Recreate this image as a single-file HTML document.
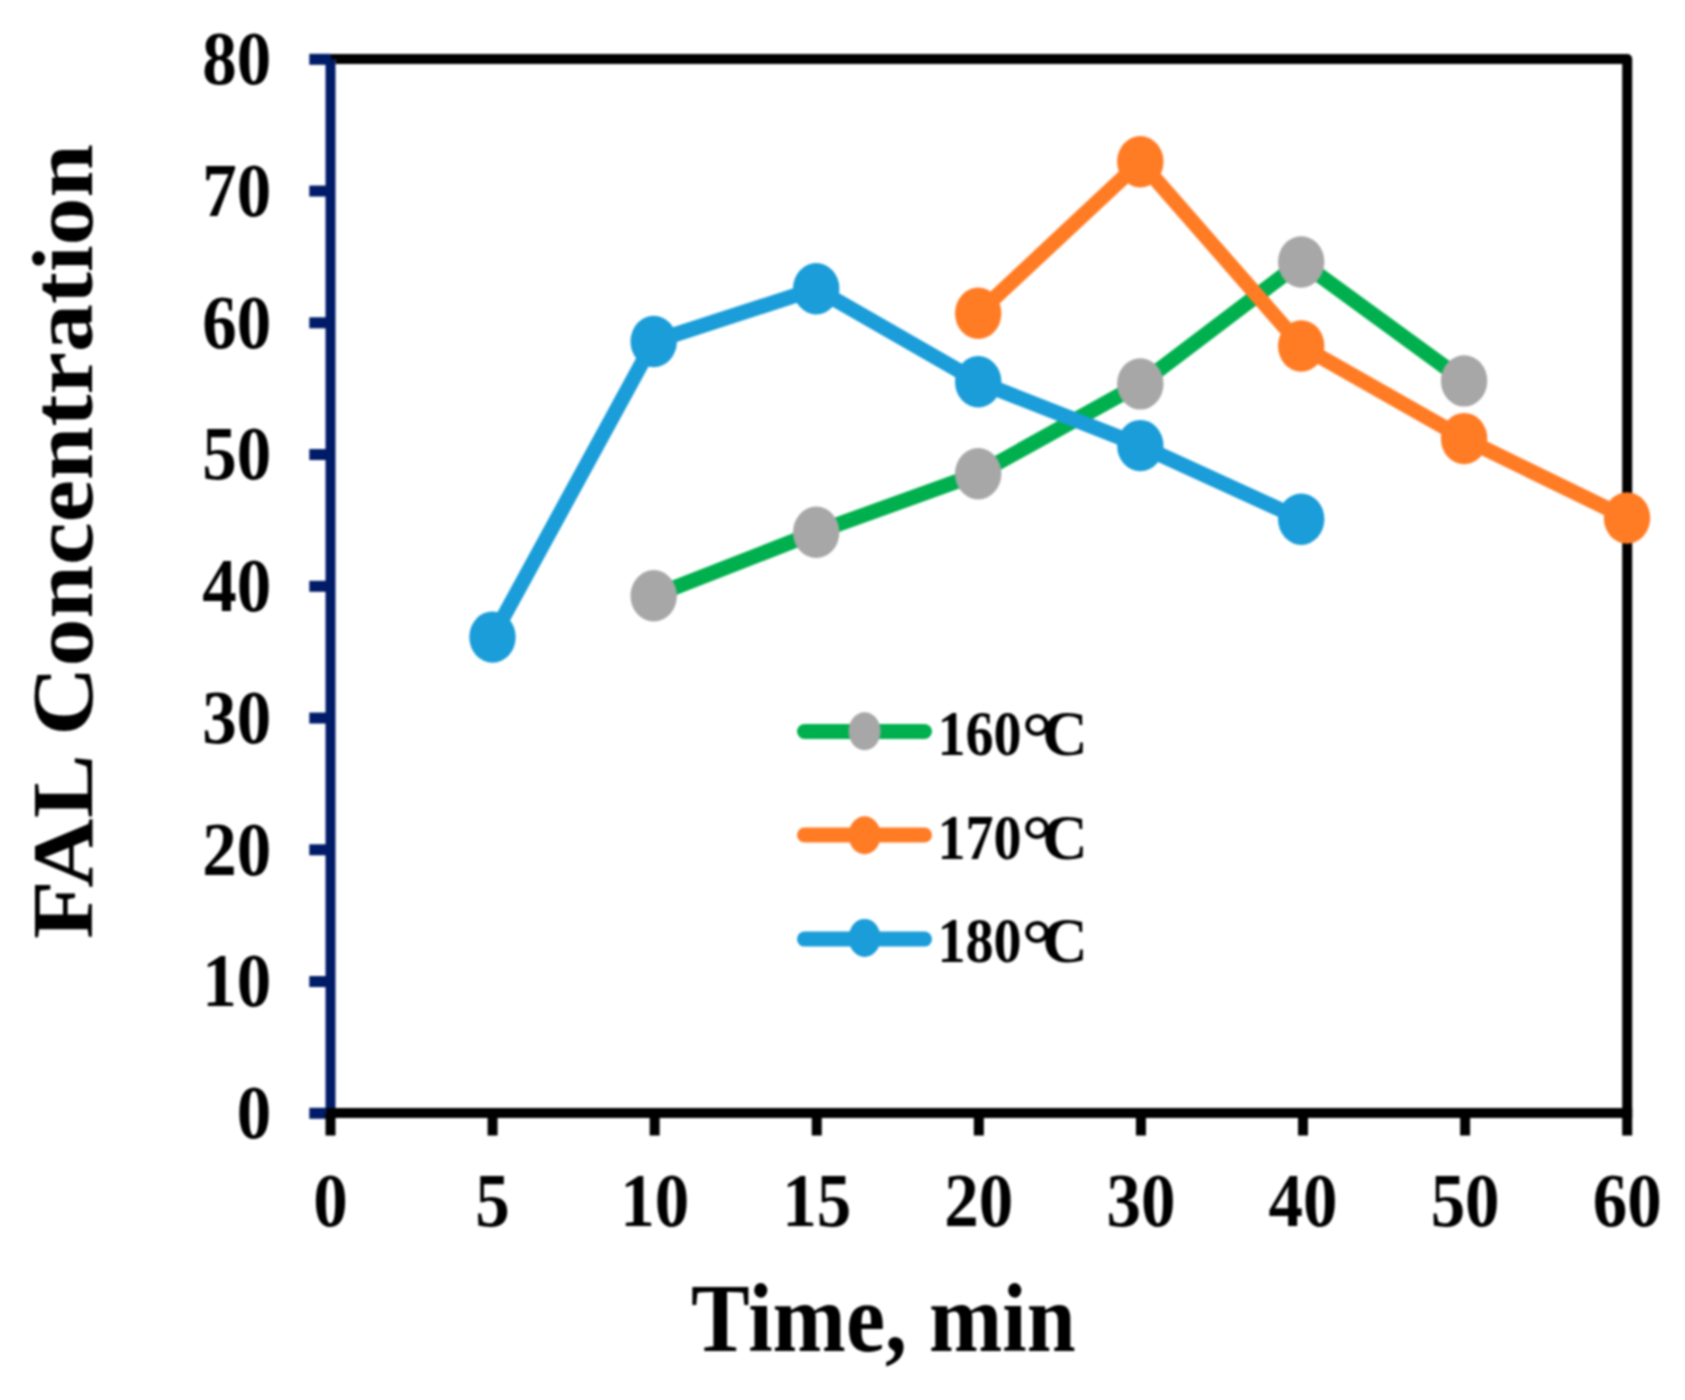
<!DOCTYPE html>
<html lang="en"><head><meta charset="utf-8"><title>FAL Concentration vs Time</title>
<style>
html,body{margin:0;padding:0;background:#fff}
body{width:1685px;height:1400px;overflow:hidden}
svg{display:block}
#chart{width:1685px;height:1400px;filter:blur(0.8px)}
text{font-family:"Liberation Serif",serif;font-weight:bold;fill:#000}
</style></head><body>
<div id="chart">
<svg width="1685" height="1400" viewBox="0 0 1685 1400">
<rect width="1685" height="1400" fill="#fff"/>
<g id="frame" fill="none" stroke-linecap="butt">
<line x1="309.3" y1="1113.30" x2="330.5" y2="1113.30" stroke="#001c68" stroke-width="11"/>
<line x1="309.3" y1="981.55" x2="330.5" y2="981.55" stroke="#001c68" stroke-width="11"/>
<line x1="309.3" y1="849.80" x2="330.5" y2="849.80" stroke="#001c68" stroke-width="11"/>
<line x1="309.3" y1="718.05" x2="330.5" y2="718.05" stroke="#001c68" stroke-width="11"/>
<line x1="309.3" y1="586.30" x2="330.5" y2="586.30" stroke="#001c68" stroke-width="11"/>
<line x1="309.3" y1="454.55" x2="330.5" y2="454.55" stroke="#001c68" stroke-width="11"/>
<line x1="309.3" y1="322.80" x2="330.5" y2="322.80" stroke="#001c68" stroke-width="11"/>
<line x1="309.3" y1="191.05" x2="330.5" y2="191.05" stroke="#001c68" stroke-width="11"/>
<line x1="309.3" y1="59.30" x2="330.5" y2="59.30" stroke="#001c68" stroke-width="11"/>
<line x1="330.5" y1="54.0" x2="330.5" y2="1118.0" stroke="#001c68" stroke-width="10"/>
<rect x="331.0" y="54.0" width="5.0" height="5.5" fill="#000"/>
<polyline points="335.5,59.0 1627.2,59.0 1627.2,1113.0" stroke="#000" stroke-width="10" stroke-linejoin="round"/>
<line x1="326.5" y1="1113.0" x2="1632.2" y2="1113.0" stroke="#000" stroke-width="10"/>
<line x1="330.50" y1="1113.0" x2="330.50" y2="1135.5" stroke="#000" stroke-width="10"/>
<line x1="492.59" y1="1113.0" x2="492.59" y2="1135.5" stroke="#000" stroke-width="10"/>
<line x1="654.67" y1="1113.0" x2="654.67" y2="1135.5" stroke="#000" stroke-width="10"/>
<line x1="816.76" y1="1113.0" x2="816.76" y2="1135.5" stroke="#000" stroke-width="10"/>
<line x1="978.85" y1="1113.0" x2="978.85" y2="1135.5" stroke="#000" stroke-width="10"/>
<line x1="1140.94" y1="1113.0" x2="1140.94" y2="1135.5" stroke="#000" stroke-width="10"/>
<line x1="1303.03" y1="1113.0" x2="1303.03" y2="1135.5" stroke="#000" stroke-width="10"/>
<line x1="1465.11" y1="1113.0" x2="1465.11" y2="1135.5" stroke="#000" stroke-width="10"/>
<line x1="1627.20" y1="1113.0" x2="1627.20" y2="1135.5" stroke="#000" stroke-width="10"/>
</g>
<g id="s160"><polyline fill="none" stroke="#00b04e" stroke-width="15" stroke-linejoin="round" stroke-linecap="round" points="653.7,595.8 816.2,532.3 978.2,473.7 1140.3,383.9 1301.2,262.0 1464.1,380.9"/><ellipse cx="653.7" cy="595.8" rx="23.2" ry="25.7" fill="#a7a7a7"/><ellipse cx="816.2" cy="532.3" rx="23.2" ry="25.7" fill="#a7a7a7"/><ellipse cx="978.2" cy="473.7" rx="23.2" ry="25.7" fill="#a7a7a7"/><ellipse cx="1140.3" cy="383.9" rx="23.2" ry="25.7" fill="#a7a7a7"/><ellipse cx="1301.2" cy="262.0" rx="23.2" ry="25.7" fill="#a7a7a7"/><ellipse cx="1464.1" cy="380.9" rx="23.2" ry="25.7" fill="#a7a7a7"/></g>
<g id="s170"><polyline fill="none" stroke="#ff7c25" stroke-width="15" stroke-linejoin="round" stroke-linecap="round" points="978.2,313.3 1140.3,161.7 1301.2,346.0 1464.1,438.6 1627.0,518.0"/><ellipse cx="978.2" cy="313.3" rx="23.2" ry="25.7" fill="#ff7c25"/><ellipse cx="1140.3" cy="161.7" rx="23.2" ry="25.7" fill="#ff7c25"/><ellipse cx="1301.2" cy="346.0" rx="23.2" ry="25.7" fill="#ff7c25"/><ellipse cx="1464.1" cy="438.6" rx="23.2" ry="25.7" fill="#ff7c25"/><ellipse cx="1627.0" cy="518.0" rx="23.2" ry="25.7" fill="#ff7c25"/></g>
<g id="s180"><polyline fill="none" stroke="#1a9dd9" stroke-width="15" stroke-linejoin="round" stroke-linecap="round" points="492.5,637.1 653.7,341.5 816.2,288.7 978.2,381.8 1140.3,445.6 1301.2,519.2"/><ellipse cx="492.5" cy="637.1" rx="23.2" ry="25.7" fill="#1a9dd9"/><ellipse cx="653.7" cy="341.5" rx="23.2" ry="25.7" fill="#1a9dd9"/><ellipse cx="816.2" cy="288.7" rx="23.2" ry="25.7" fill="#1a9dd9"/><ellipse cx="978.2" cy="381.8" rx="23.2" ry="25.7" fill="#1a9dd9"/><ellipse cx="1140.3" cy="445.6" rx="23.2" ry="25.7" fill="#1a9dd9"/><ellipse cx="1301.2" cy="519.2" rx="23.2" ry="25.7" fill="#1a9dd9"/></g>
<g id="legend">
<line x1="804.5" y1="731.5" x2="924.5" y2="731.5" stroke="#00b04e" stroke-width="15" stroke-linecap="round"/>
<ellipse cx="864.6" cy="731.3" rx="16" ry="19" fill="#a7a7a7"/>
<text transform="translate(0,755.30) scale(1,1.1275)" x="937.5" y="0" font-size="56.1">160<tspan x="1021.4" dy="6.4" font-size="65.7" textLength="31.2" lengthAdjust="spacingAndGlyphs">°</tspan><tspan x="1042.3" dy="-6.4" textLength="45.4" lengthAdjust="spacingAndGlyphs">C</tspan></text>
<line x1="804.5" y1="835.0" x2="924.5" y2="835.0" stroke="#ff7c25" stroke-width="15" stroke-linecap="round"/>
<ellipse cx="864.6" cy="835.2" rx="16" ry="19" fill="#ff7c25"/>
<text transform="translate(0,859.00) scale(1,1.1275)" x="937.5" y="0" font-size="56.1">170<tspan x="1021.4" dy="6.4" font-size="65.7" textLength="31.2" lengthAdjust="spacingAndGlyphs">°</tspan><tspan x="1042.3" dy="-6.4" textLength="45.4" lengthAdjust="spacingAndGlyphs">C</tspan></text>
<line x1="804.5" y1="939.1" x2="924.5" y2="939.1" stroke="#1a9dd9" stroke-width="15" stroke-linecap="round"/>
<ellipse cx="864.6" cy="937.9" rx="16" ry="19" fill="#1a9dd9"/>
<text transform="translate(0,962.40) scale(1,1.1275)" x="937.5" y="0" font-size="56.1">180<tspan x="1021.4" dy="6.4" font-size="65.7" textLength="31.2" lengthAdjust="spacingAndGlyphs">°</tspan><tspan x="1042.3" dy="-6.4" textLength="45.4" lengthAdjust="spacingAndGlyphs">C</tspan></text>
</g>
<g id="ylabels">
<text text-anchor="end" transform="translate(271.16,1138.11) scale(1,1.1)" font-size="69.0">0</text>
<text text-anchor="end" transform="translate(271.16,1006.36) scale(1,1.1)" font-size="69.0">10</text>
<text text-anchor="end" transform="translate(271.16,874.61) scale(1,1.1)" font-size="69.0">20</text>
<text text-anchor="end" transform="translate(271.16,742.86) scale(1,1.1)" font-size="69.0">30</text>
<text text-anchor="end" transform="translate(271.16,611.11) scale(1,1.1)" font-size="69.0">40</text>
<text text-anchor="end" transform="translate(271.16,479.36) scale(1,1.1)" font-size="69.0">50</text>
<text text-anchor="end" transform="translate(271.16,347.61) scale(1,1.1)" font-size="69.0">60</text>
<text text-anchor="end" transform="translate(271.16,215.86) scale(1,1.1)" font-size="69.0">70</text>
<text text-anchor="end" transform="translate(271.16,84.11) scale(1,1.1)" font-size="69.0">80</text>
</g>
<g id="xlabels">
<text text-anchor="middle" transform="translate(330.50,1226.10) scale(1,1.1)" font-size="69.0">0</text>
<text text-anchor="middle" transform="translate(492.59,1226.10) scale(1,1.1)" font-size="69.0">5</text>
<text text-anchor="middle" transform="translate(654.67,1226.10) scale(1,1.1)" font-size="69.0">10</text>
<text text-anchor="middle" transform="translate(816.76,1226.10) scale(1,1.1)" font-size="69.0">15</text>
<text text-anchor="middle" transform="translate(978.85,1226.10) scale(1,1.1)" font-size="69.0">20</text>
<text text-anchor="middle" transform="translate(1140.94,1226.10) scale(1,1.1)" font-size="69.0">30</text>
<text text-anchor="middle" transform="translate(1303.03,1226.10) scale(1,1.1)" font-size="69.0">40</text>
<text text-anchor="middle" transform="translate(1465.11,1226.10) scale(1,1.1)" font-size="69.0">50</text>
<text text-anchor="middle" transform="translate(1627.20,1226.10) scale(1,1.1)" font-size="69.0">60</text>
</g>
<text id="xtitle" transform="translate(691.04,1351.1) scale(1,1.11)" font-size="88.0">Time, min</text>
<text id="ytitle" transform="translate(92.2,939.12) rotate(-90) scale(1.1028,1)" font-size="87.0">FAL Concentration</text>
</svg>
</div></body></html>
